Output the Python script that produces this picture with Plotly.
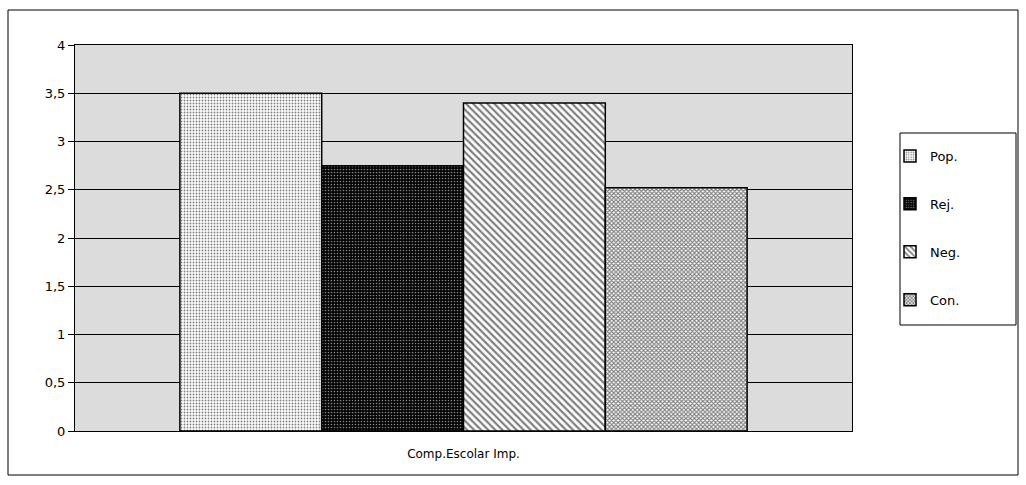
import plotly.graph_objects as go

categories = ["Comp.Escolar Imp."]
series_names = ["Pop.", "Rej.", "Neg.", "Con."]
pop_values = [3.5]
rej_values = [2.75]
neg_values = [3.4]
con_values = [2.52]
y_ticks = [0, 0.5, 1, 1.5, 2, 2.5, 3, 3.5, 4]
y_tick_labels = ["0", "0,5", "1", "1,5", "2", "2,5", "3", "3,5", "4"]

series_values = [pop_values, rej_values, neg_values, con_values]
patterns = [
    dict(shape=".", fgcolor="#000000", bgcolor="#ffffff", size=3, solidity=0.3),
    dict(shape=".", fgcolor="#ffffff", bgcolor="#000000", size=3, solidity=0.25),
    dict(shape="\\", fgcolor="#000000", bgcolor="#ffffff", size=5, solidity=0.45),
    dict(shape="x", fgcolor="#000000", bgcolor="#ffffff", size=3, solidity=0.6),
]

fig = go.Figure()
for i, (name, vals, pat) in enumerate(zip(series_names, series_values, patterns)):
    fig.add_trace(go.Bar(
        x=categories, y=vals, name=name,
        legendgroup=name,
        marker=dict(color=pat["bgcolor"], pattern=pat,
                    line=dict(color="#000000", width=1.5)),
    ))

W, H = 1026, 485
ml, mr, mt, mb = 75, 174, 45, 54
pw, ph = W - ml - mr, H - mt - mb

def px(x):
    return (x - ml) / pw

def py(y):
    return (H - mb - y) / ph

FONT = "DejaVu Sans, Liberation Sans, Arial, sans-serif"

fig.update_layout(
    width=W, height=H,
    margin=dict(l=ml, r=mr, t=mt, b=mb),
    paper_bgcolor="#ffffff",
    plot_bgcolor="#dcdcdc",
    barmode="group", bargap=0.27, bargroupgap=0,
    font=dict(family=FONT, size=12, color="#000000"),
    showlegend=True,
    legend=dict(
        x=px(890), y=py(141), xanchor="left", yanchor="top",
        borderwidth=0, bgcolor="rgba(0,0,0,0)",
        traceorder="grouped", tracegroupgap=28,
        font=dict(family=FONT, size=13),
        itemwidth=30,
    ),
    xaxis=dict(
        showline=True, linecolor="#000000", linewidth=1, mirror=True,
        showgrid=False, ticks="", tickfont=dict(family=FONT, size=12),
        ticklabelstandoff=12,
    ),
    yaxis=dict(
        range=[0, 4], tickvals=y_ticks, ticktext=y_tick_labels,
        showline=True, linecolor="#000000", linewidth=1, mirror=True,
        showgrid=True, gridcolor="#000000", gridwidth=1,
        ticks="outside", ticklen=6, tickcolor="#000000",
        tickfont=dict(family=FONT, size=13), zeroline=False,
    ),
    shapes=[
        dict(
            type="rect", xref="paper", yref="paper",
            x0=px(8), x1=px(1018), y0=py(475), y1=py(10),
            line=dict(color="#000000", width=1), fillcolor="rgba(0,0,0,0)",
            layer="below",
        ),
        dict(
            type="rect", xref="paper", yref="paper",
            x0=px(900), x1=px(1016), y0=py(325), y1=py(133),
            line=dict(color="#000000", width=1), fillcolor="#ffffff",
            layer="below",
        ),
    ],
)

fig.write_html("out.html")
